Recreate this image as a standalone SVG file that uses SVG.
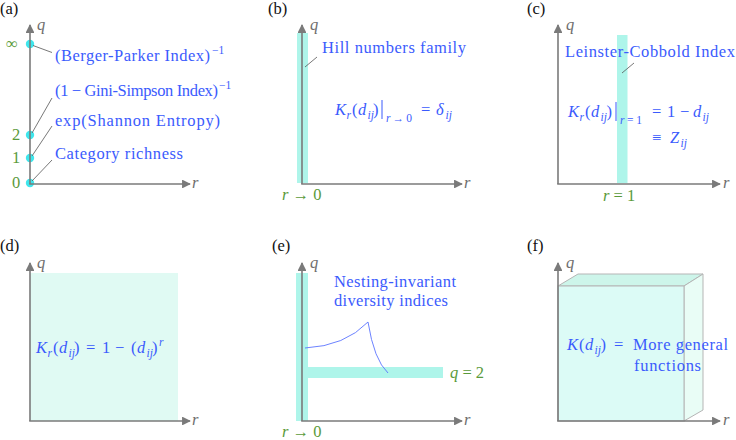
<svg xmlns="http://www.w3.org/2000/svg" width="736" height="440" viewBox="0 0 736 440">
<style>
text{font-family:"Liberation Serif","DejaVu Serif",serif;}
.t{font-size:16.5px;fill:#3b5bfd;}
.s{font-size:11.5px;fill:#3b5bfd;}
.i{font-style:italic;}
.g{font-size:16.5px;fill:#5a9a3a;}
.ax{font-size:16.5px;fill:#6e6e6e;font-style:italic;}
.lb{font-size:16.5px;fill:#111;}
.axis{stroke:#7a7a7a;stroke-width:1.6;fill:none;}
.lead{stroke:#555;stroke-width:0.8;fill:none;}
.evb{stroke:#3b5bfd;stroke-width:1;}
.bar{fill:#aef5ea;}
.dot{fill:#3fe6ec;}
</style>
<defs>
<marker id="ah" viewBox="0 0 10 10" refX="9" refY="5" markerWidth="5.5" markerHeight="5.5" orient="auto" markerUnits="strokeWidth">
<path d="M0,0 L10,5 L0,10 Z" fill="#7a7a7a"/>
</marker>
</defs>

<!-- Panel (a) -->
<g id="panel-a">
<text class="lb" x="0" y="14">(a)</text>
<g id="a-ticks">
<text class="g" x="6" y="49" textLength="16">∞</text>
<text class="g" x="12" y="140">2</text>
<text class="g" x="12" y="163">1</text>
<text class="g" x="12" y="188">0</text>
</g>
<g id="a-dots">
<circle class="dot" cx="30" cy="44" r="4.2"/>
<circle class="dot" cx="30" cy="135" r="4.2"/>
<circle class="dot" cx="30" cy="158" r="4.2"/>
<circle class="dot" cx="30" cy="183" r="4.2"/>
</g>
<g id="a-berger"><text class="t" x="55" y="61" textLength="155">(Berger-Parker Index)</text><text class="s" x="212" y="54">−1</text></g>
<g id="a-gini"><text class="t" x="55" y="96" textLength="163">(1 − Gini-Simpson Index)</text><text class="s" x="219" y="89">−1</text></g>
<g id="a-shannon"><text class="t" x="55" y="126" textLength="165">exp(Shannon Entropy)</text></g>
<g id="a-richness"><text class="t" x="55" y="159" textLength="128">Category richness</text></g>
</g>

<!-- Panel (b) -->
<g id="panel-b">
<text class="lb" x="268" y="14">(b)</text>
<rect class="bar" x="297" y="33" width="11" height="150"/>
<g id="b-hill"><text class="t" x="322" y="53" textLength="144">Hill numbers family</text></g>
<g id="b-formula">
<text class="t i" x="335" y="115">K</text>
<text class="s i" x="346.5" y="119">r</text>
<text class="t" x="352" y="115">(</text>
<text class="t i" x="358" y="115">d</text>
<text class="s i" x="367.5" y="119">ij</text>
<text class="t" x="373" y="115">)</text>
<line class="evb" x1="382" y1="100" x2="382" y2="119"/>
<text class="s" x="386" y="122" textLength="26"><tspan class="i">r</tspan>→0</text>
<text class="t" x="421" y="115">=</text>
<text class="t i" x="436" y="115">δ</text>
<text class="s i" x="445.5" y="119">ij</text>
</g>
<text class="g" x="282" y="200"><tspan class="i">r</tspan> → 0</text>
</g>

<!-- Panel (c) -->
<g id="panel-c">
<text class="lb" x="527" y="14">(c)</text>
<rect class="bar" x="617" y="35" width="10.5" height="148"/>
<g id="c-lc"><text class="t" x="565" y="57" textLength="170">Leinster-Cobbold Index</text></g>
<g id="c-formula">
<text class="t i" x="568" y="117">K</text>
<text class="s i" x="579.5" y="121">r</text>
<text class="t" x="585" y="117">(</text>
<text class="t i" x="591" y="117">d</text>
<text class="s i" x="600.5" y="121">ij</text>
<text class="t" x="606.5" y="117">)</text>
<line class="evb" x1="616" y1="102" x2="616" y2="121"/>
<text class="s" x="620" y="124" textLength="22"><tspan class="i">r</tspan>=1</text>
<text class="t" x="652" y="117">=</text>
<text class="t" x="667" y="117">1</text>
<text class="t" x="680" y="117">−</text>
<text class="t i" x="693" y="117">d</text>
<text class="s i" x="702.5" y="121">ij</text>
<text class="t" x="652" y="143">≡</text>
<text class="t i" x="670" y="143">Z</text>
<text class="s i" x="680.5" y="147">ij</text>
</g>
<text class="g" x="603" y="201"><tspan class="i">r</tspan> = 1</text>
</g>

<!-- Panel (d) -->
<g id="panel-d">
<text class="lb" x="0" y="251">(d)</text>
<rect x="30" y="273" width="148" height="148" fill="#e0faf3"/>
<g id="d-formula">
<text class="t i" x="36" y="353">K</text>
<text class="s i" x="47.5" y="357">r</text>
<text class="t" x="53" y="353">(</text>
<text class="t i" x="59" y="353">d</text>
<text class="s i" x="68.5" y="357">ij</text>
<text class="t" x="74" y="353">)</text>
<text class="t" x="86" y="353">=</text>
<text class="t" x="102" y="353">1</text>
<text class="t" x="115" y="353">−</text>
<text class="t" x="131" y="353">(</text>
<text class="t i" x="137" y="353">d</text>
<text class="s i" x="146.5" y="357">ij</text>
<text class="t" x="152" y="353">)</text>
<text class="s i" x="159" y="346">r</text>
</g>
</g>

<!-- Panel (e) -->
<g id="panel-e">
<text class="lb" x="272" y="251">(e)</text>
<rect class="bar" x="296" y="273" width="12" height="148"/>
<rect class="bar" x="308" y="367" width="135" height="11"/>
<g id="e-nesting">
<text class="t" x="334" y="287" textLength="122">Nesting-invariant</text>
<text class="t" x="334" y="306" textLength="114">diversity indices</text>
</g>
<text class="g" x="450" y="378"><tspan class="i">q</tspan> = 2</text>
<text class="g" x="282" y="437"><tspan class="i">r</tspan> → 0</text>
</g>

<!-- Panel (f) -->
<g id="panel-f">
<text class="lb" x="527" y="251">(f)</text>
<g id="f-box" stroke="#b5b5b5" stroke-width="1">
<polygon points="558,286 684,286 703,274 578,274" fill="#cdf5ea"/>
<polygon points="684,286 703,274 703,410 684,421" fill="#e9fdf6"/>
<rect x="558" y="286" width="126" height="135" fill="#dcfbf6"/>
</g>
<g id="f-formula">
<text class="t i" x="567" y="350">K</text>
<text class="t" x="579" y="350">(</text>
<text class="t i" x="585" y="350">d</text>
<text class="s i" x="594.5" y="354">ij</text>
<text class="t" x="600.5" y="350">)</text>
<text class="t" x="614" y="350">=</text>
<text class="t" x="633" y="350" textLength="95">More general</text>
<text class="t" x="634" y="371" textLength="67">functions</text>
</g>
</g>

<!-- Connectors: axes and leader lines -->
<g id="connectors">
<g id="axes">
<path class="axis" d="M30,184 V25" marker-end="url(#ah)"/>
<path class="axis" d="M29.2,184 H190" marker-end="url(#ah)"/>
<path class="axis" d="M302,184 V25" marker-end="url(#ah)"/>
<path class="axis" d="M301.2,184 H462" marker-end="url(#ah)"/>
<path class="axis" d="M558,184 V25" marker-end="url(#ah)"/>
<path class="axis" d="M557.2,184 H720" marker-end="url(#ah)"/>
<path class="axis" d="M30,421 V263" marker-end="url(#ah)"/>
<path class="axis" d="M29.2,421 H190" marker-end="url(#ah)"/>
<path class="axis" d="M302,421 V263" marker-end="url(#ah)"/>
<path class="axis" d="M301.2,421 H462" marker-end="url(#ah)"/>
<path class="axis" d="M558,421 V263" marker-end="url(#ah)"/>
<path class="axis" d="M557.2,421 H720" marker-end="url(#ah)"/>
</g>
<g id="leaders">
<line class="lead" x1="33" y1="45.5" x2="52" y2="52.5"/>
<line class="lead" x1="32" y1="133" x2="52" y2="98"/>
<line class="lead" x1="32" y1="156" x2="52" y2="126"/>
<line class="lead" x1="32" y1="181" x2="52" y2="160"/>
<line class="lead" x1="305" y1="67" x2="317" y2="57"/>
<line class="lead" x1="622" y1="73" x2="634" y2="63"/>
<path d="M305,348 Q345,346 368,322 Q374,360 388,373" fill="none" stroke="#5b74ff" stroke-width="0.9"/>
</g>
</g>

<g id="axis-labels">
<text class="ax" x="37" y="30">q</text><text class="ax" x="192" y="188">r</text>
<text class="ax" x="310" y="30">q</text><text class="ax" x="464" y="188">r</text>
<text class="ax" x="566" y="30">q</text><text class="ax" x="723" y="188">r</text>
<text class="ax" x="37" y="268">q</text><text class="ax" x="192" y="425">r</text>
<text class="ax" x="310" y="268">q</text><text class="ax" x="464" y="425">r</text>
<text class="ax" x="566" y="268">q</text><text class="ax" x="723" y="425">r</text>
</g>
</svg>
